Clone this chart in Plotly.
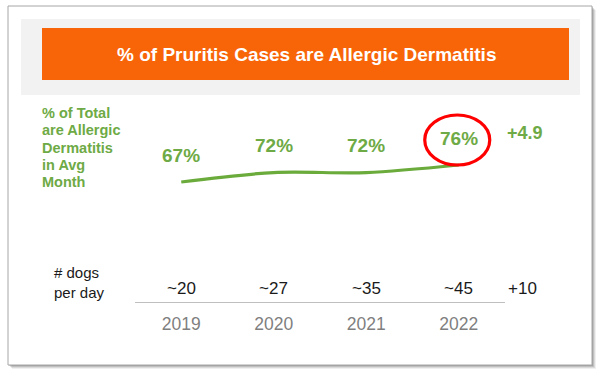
import plotly.graph_objects as go

# ---- data ----
years = ["2019", "2020", "2021", "2022"]
pct_allergic = [67, 72, 72, 76]
dogs_per_day = ["~20", "~27", "~35", "~45"]
pct_change_label = "+4.9"
dogs_change_label = "+10"
title_text = "% of Pruritis Cases are Allergic Dermatitis"
left_label_lines = ["% of Total", "are Allergic", "Dermatitis", "in Avg", "Month"]
dogs_label = "# dogs<br>per day"

W, H = 600, 379
FONT = "Liberation Sans, Arial, sans-serif"
GREEN = "#6AAB3C"
GREEN_TXT = "#6EAA45"

def px(x):
    return x / W

def py(y):
    return 1 - y / H

# plot area in pixels
plot_left, plot_right = 135, 505
plot_top, plot_bottom = 100, 302
# y scale: 67 -> 182px, 76 -> 165px
ppu = (182 - 165) / (76 - 67)
ymax = 76 + (165 - plot_top) / ppu
ymin = ymax - (plot_bottom - plot_top) / ppu

fig = go.Figure()
fig.add_trace(go.Scatter(
    x=years, y=pct_allergic, mode="lines",
    line=dict(color=GREEN, width=3.2, shape="spline", smoothing=0.9),
    hoverinfo="skip", showlegend=False,
))

last_idx = len(years) - 1

shapes = []
# card shadow
for (dx, dy, a) in [(4, 4, 0.06), (3, 3, 0.09), (2, 2, 0.12), (1, 1, 0.15)]:
    shapes.append(dict(type="rect", xref="paper", yref="paper",
                       x0=px(8 + dx), x1=px(592 + dx), y0=py(365 + dy), y1=py(6 + dy),
                       fillcolor=f"rgba(0,0,0,{a})", line=dict(width=0), layer="below"))
# card
shapes.append(dict(type="rect", xref="paper", yref="paper",
                   x0=px(8), x1=px(592), y0=py(365), y1=py(6),
                   fillcolor="white", line=dict(color="#A6A6A6", width=1), layer="below"))
# gray band
shapes.append(dict(type="rect", xref="paper", yref="paper",
                   x0=px(21), x1=px(580), y0=py(95), y1=py(19),
                   fillcolor="#F2F2F2", line=dict(width=0), layer="below"))
# orange header
shapes.append(dict(type="rect", xref="paper", yref="paper",
                   x0=px(42), x1=px(569), y0=py(80), y1=py(28),
                   fillcolor="#F86509", line=dict(width=0), layer="below"))
# red circle around last value
shapes.append(dict(type="circle", xref="x", yref="y",
                   xsizemode="pixel", ysizemode="pixel",
                   xanchor=last_idx, yanchor=pct_allergic[-1],
                   x0=-34, x1=31, y0=0, y1=50,
                   line=dict(color="#FF0000", width=3.2), fillcolor="rgba(0,0,0,0)",
                   layer="above"))

annotations = []
annotations.append(dict(xref="paper", yref="paper", x=px(306), y=py(54),
                        text=f"<b>{title_text}</b>", showarrow=False,
                        font=dict(family=FONT, size=19, color="white"),
                        xanchor="center", yanchor="middle"))
# left green label
for i, line in enumerate(left_label_lines):
    annotations.append(dict(xref="paper", yref="paper", x=px(40), y=py(113 + i * 17.3),
                            text=f"<b>{line}</b>", showarrow=False,
                            font=dict(family=FONT, size=14.5, color=GREEN_TXT),
                            xanchor="left", yanchor="middle"))
# percent labels
for i, v in enumerate(pct_allergic):
    annotations.append(dict(xref="x", yref="y", x=i, y=v, yshift=27,
                            text=f"<b>{v}%</b>", showarrow=False,
                            font=dict(family=FONT, size=19, color=GREEN_TXT),
                            xanchor="center", yanchor="middle"))
annotations.append(dict(xref="paper", yref="paper", x=px(525), y=py(133),
                        text=f"<b>{pct_change_label}</b>", showarrow=False,
                        font=dict(family=FONT, size=18, color=GREEN_TXT),
                        xanchor="center", yanchor="middle"))
# dogs per day
annotations.append(dict(xref="paper", yref="paper", x=px(52), y=py(282),
                        text=dogs_label, showarrow=False, align="left",
                        font=dict(family=FONT, size=15, color="#1A1A1A"),
                        xanchor="left", yanchor="middle"))
for i, d in enumerate(dogs_per_day):
    annotations.append(dict(xref="x", yref="paper", x=i, y=py(288),
                            text=d, showarrow=False,
                            font=dict(family=FONT, size=17, color="#1A1A1A"),
                            xanchor="center", yanchor="middle"))
annotations.append(dict(xref="paper", yref="paper", x=px(522), y=py(288),
                        text=dogs_change_label, showarrow=False,
                        font=dict(family=FONT, size=17, color="#1A1A1A"),
                        xanchor="center", yanchor="middle"))

fig.update_layout(
    width=W, height=H,
    margin=dict(l=0, r=0, t=0, b=0),
    paper_bgcolor="white", plot_bgcolor="rgba(0,0,0,0)",
    shapes=shapes, annotations=annotations,
    xaxis=dict(domain=[px(plot_left), px(plot_right)], type="category",
               range=[-0.5, 3.5], showgrid=False, zeroline=False,
               showline=True, linecolor="#BFBFBF", linewidth=1.3,
               ticks="", ticklabelstandoff=6,
               tickfont=dict(family=FONT, size=17.5, color="#7F7F7F"),
               fixedrange=True),
    yaxis=dict(domain=[py(plot_bottom), py(plot_top)], range=[ymin, ymax],
               visible=False, fixedrange=True),
    showlegend=False,
)

fig.write_html("out.html", config={"displayModeBar": False},
               post_script="document.body.style.margin='0';")
